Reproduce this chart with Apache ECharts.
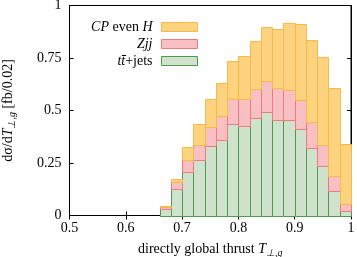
<!DOCTYPE html>
<html><head><meta charset="utf-8">
<script src="https://cdn.jsdelivr.net/npm/echarts@6/dist/echarts.min.js"></script>
<style>html,body{margin:0;padding:0;background:#fff}#c{width:357px;height:257px}</style>
</head><body><div id="c"></div>
<script>
var binLows = [0.50,0.52,0.54,0.56,0.58,0.60,0.62,0.64,0.66,0.68,0.70,0.72,0.74,0.76,0.78,0.80,0.82,0.84,0.86,0.88,0.90,0.92,0.94,0.96,0.98];
var binWidth = 0.02;
var ttjets = [0,0,0,0,0,0,0,0,0.033,0.125,0.206,0.263,0.331,0.361,0.434,0.425,0.464,0.491,0.453,0.453,0.410,0.321,0.237,0.117,0.021];
var zjj    = [0,0,0,0,0,0,0,0,0.009,0.033,0.057,0.071,0.089,0.111,0.119,0.128,0.137,0.149,0.153,0.145,0.140,0.123,0.097,0.070,0.034];
var cpEvenH= [0,0,0,0,0,0,0,0,0.005,0.014,0.063,0.103,0.135,0.159,0.183,0.205,0.230,0.258,0.282,0.319,0.362,0.390,0.419,0.419,0.285];

var F = 'Liberation Serif';
var chart = echarts.init(document.getElementById('c'), null, {renderer:'canvas'});
var tickStyle = {show:true, inside:true, length:4, lineStyle:{color:'#000', width:1}};

var bases = binLows.map(function(){return 0;});
function histo(name, vals, fill, stroke){
  var data = binLows.map(function(b,i){
    var d = [b, b + binWidth, bases[i], bases[i] + vals[i]];
    bases[i] += vals[i];
    return d;
  });
  return {name:name, type:'custom', xAxisIndex:0, yAxisIndex:0, data:data,
    encode:{x:[0,1], y:[2,3]},
    itemStyle:{color:fill, borderColor:stroke, borderWidth:1},
    renderItem:function(params, api){
      var y0 = api.value(2), y1 = api.value(3);
      if (y1 - y0 <= 0) return null;
      var p0 = api.coord([api.value(0), y0]);
      var p1 = api.coord([api.value(1), y1]);
      var x0 = Math.round(p0[0]) + 0.5, x1 = Math.round(p1[0]) + 0.5;
      var ya = Math.round(p1[1]) + 0.5, yb = Math.round(p0[1]) + 0.5;
      return {type:'rect', shape:{x:x0, y:ya, width:x1-x0, height:yb-ya},
        style:{fill:fill, stroke:stroke, lineWidth:1}};
    }};
}
var series = [
  histo('tt+jets', ttjets, '#cfe3cc', '#4f9a4f'),
  histo('Zjj', zjj, '#f9c0c3', '#f07a7c'),
  histo('CP even H', cpEvenH, '#fed37f', '#f6b94a')
];
chart.setOption({
  animation:false,
  textStyle:{fontFamily:F},
  grid:{left:69.5, right:6, top:5.5, bottom:41.5, show:true, borderColor:'#000', borderWidth:1, backgroundColor:'transparent', containLabel:false, outerBoundsMode:'none'},
  legend:{
    orient:'vertical', right:154, top:15, align:'right', itemWidth:36, itemHeight:9, itemGap:3,
    data:[
      {name:'CP even H', icon:'rect', itemStyle:{color:'#fed37f', borderColor:'#f6b94a', borderWidth:1}},
      {name:'Zjj', icon:'rect', itemStyle:{color:'#f9c0c3', borderColor:'#f07a7c', borderWidth:1}},
      {name:'tt+jets', icon:'rect', itemStyle:{color:'#cfe3cc', borderColor:'#4f9a4f', borderWidth:1}}
    ],
    textStyle:{fontFamily:F, fontSize:14, color:'#000', padding:[0,4,0,0],
      rich:{i:{fontFamily:F, fontStyle:'italic', fontSize:14}, n:{fontFamily:F, fontSize:14}}},
    formatter:function(n){
      if(n==='CP even H') return '{i|CP}{n| even }{i|H}';
      if(n==='Zjj') return '{i|Zjj}';
      return '{i|tt\u0304}{n|+jets}';
    }
  },
  xAxis:[
    {type:'value', min:0.5, max:1, interval:0.1, position:'bottom',
     axisLine:{show:true, lineStyle:{color:'#000'}}, axisTick:tickStyle, splitLine:{show:false},
     axisLabel:{fontFamily:F, fontSize:14, color:'#000', margin:6, formatter:function(v){return String(+v.toFixed(2));}},
     name:'{n|directly global thrust }{i|T}{s|\u22A5,g}', nameLocation:'middle', nameGap:25,
     nameTextStyle:{fontFamily:F, fontSize:14, color:'#000',
       rich:{n:{fontFamily:F,fontSize:14}, i:{fontFamily:F,fontSize:14,fontStyle:'italic'}, s:{fontFamily:F,fontSize:10,fontStyle:'italic', padding:[8,0,0,0]}}}},
    {type:'value', min:0.5, max:1, interval:0.1, position:'top',
     axisLine:{show:true, lineStyle:{color:'#000'}}, axisTick:tickStyle, axisLabel:{show:false}, splitLine:{show:false}}
  ],
  yAxis:[
    {type:'value', min:0, max:1, interval:0.25, position:'left',
     axisLine:{show:true, lineStyle:{color:'#000'}}, axisTick:tickStyle, splitLine:{show:false},
     axisLabel:{fontFamily:F, fontSize:14, color:'#000', margin:8, formatter:function(v){return String(+v.toFixed(2));}},
     name:'{n|d\u03C3/d}{i|T}{s|\u22A5,g}{n| [fb/0.02]}', nameLocation:'middle', nameGap:52, nameRotate:90,
     nameTextStyle:{fontFamily:F, fontSize:14, color:'#000',
       rich:{n:{fontFamily:F,fontSize:14}, i:{fontFamily:F,fontSize:14,fontStyle:'italic'}, s:{fontFamily:F,fontSize:10,fontStyle:'italic', padding:[8,0,0,0]}}}},
    {type:'value', min:0, max:1, interval:0.25, position:'right',
     axisLine:{show:true, lineStyle:{color:'#000'}}, axisTick:tickStyle, axisLabel:{show:false}, splitLine:{show:false}}
  ],
  series:series
});
</script></body></html>
